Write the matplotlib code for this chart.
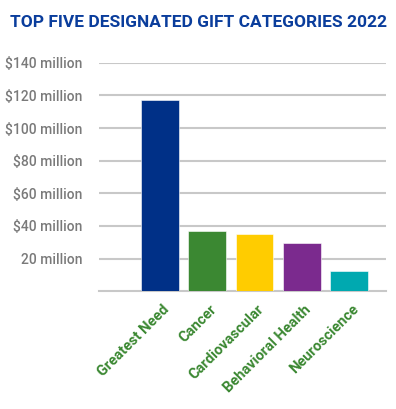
import numpy as np
import matplotlib.pyplot as plt

categories = ["Greatest Need", "Cancer", "Cardiovascular", "Behavioral Health", "Neuroscience"]
gifts_millions = [117.4, 37.2, 35.0, 29.8, 12.6]
bar_colors = ["#003087", "#3b8832", "#ffcc00", "#7b2a8e", "#00a9b0"]

y_ticks = [20, 40, 60, 80, 100, 120, 140]
y_tick_labels = ["20 million", "$40 million", "$60 million", "$80 million",
                 "$100 million", "$120 million", "$140 million"]

title = "TOP FIVE DESIGNATED GIFT CATEGORIES 2022"


def main():
    fig = plt.figure(figsize=(3.96, 4.09), dpi=100)
    ax = fig.add_axes([0.25, 0.2878, 0.7247, 0.5589])

    x = np.arange(len(categories))
    ax.bar(x, gifts_millions, width=0.8, color=bar_colors,
           edgecolor="white", linewidth=0.4, zorder=3)

    ax.set_xlim(-1.29, 4.78)
    ax.set_ylim(0, 140)

    ax.set_yticks(y_ticks)
    ax.set_yticklabels(y_tick_labels, fontsize=10, color="#7a7a7a",
                       fontfamily="Roboto", fontweight="medium")
    ax.yaxis.grid(True, color="#c8c8c8", linewidth=1.5, zorder=0)
    ax.tick_params(axis="y", length=0, pad=12)

    ax.set_xticks(x + 0.05)
    ax.set_xticklabels(categories, rotation=45, ha="right",
                       rotation_mode="anchor", fontsize=10.5, color="#3b8832",
                       fontfamily="Roboto", fontweight="bold")
    ax.tick_params(axis="x", length=0, pad=8)

    for side in ["top", "right", "left"]:
        ax.spines[side].set_visible(False)
    ax.spines["bottom"].set_color("#c8c8c8")
    ax.spines["bottom"].set_linewidth(1.5)

    fig.text(0.5, 0.945, title, ha="center", va="center", fontsize=12.5,
             color="#0a3d9c", fontfamily="Roboto", fontweight="bold")

    fig.savefig("out.png", dpi=100)


if __name__ == "__main__":
    main()
